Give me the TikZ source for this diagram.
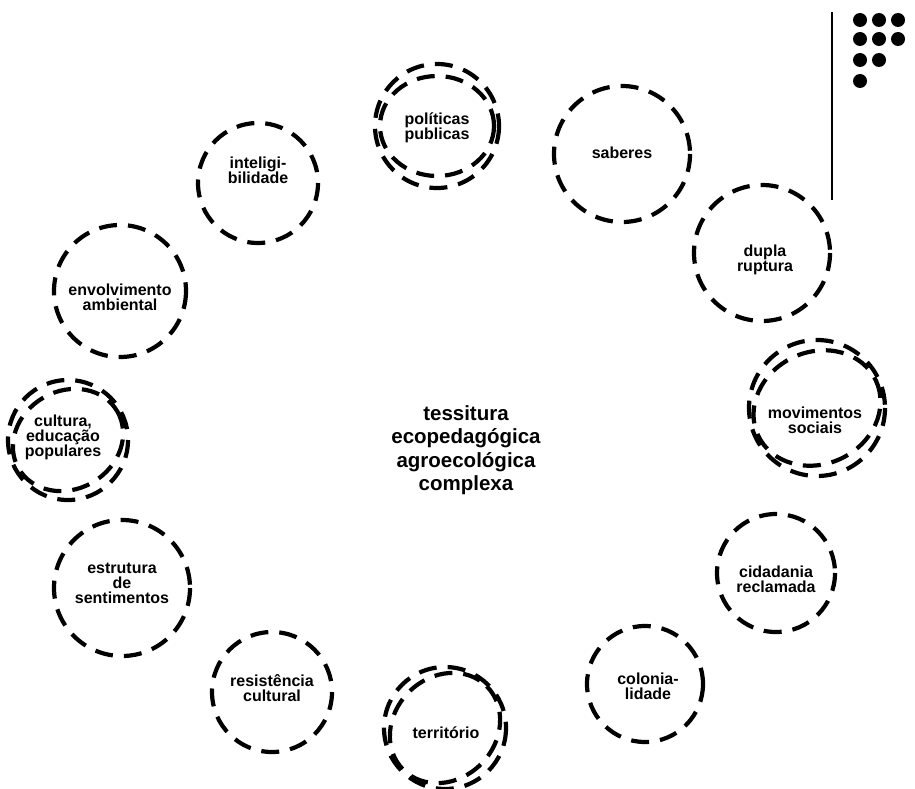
\documentclass[tikz,border=0pt]{standalone}
\usepackage{fontspec}
\setmainfont{Liberation Sans}
\begin{document}
\begin{tikzpicture}[x=1pt,y=-1pt,
  ringline/.style={line width=4.2pt, dash pattern=on 18pt off 11pt},
  lbl/.style={inner sep=0pt, align=center, font=\fontsize{16}{15}\selectfont\bfseries},
  big/.style={inner sep=0pt, align=center, font=\fontsize{20.5}{23.5}\selectfont\bfseries}]
\useasboundingbox[fill=white] (0,0) rectangle (915,789);

% corner decoration
\draw[line width=2.5pt] (832,12) -- (832,200);
\foreach \p in {(860,20),(879,20),(898,20),(860,39),(879,39),(898,39),(860,60),(879,60),(860,81)}
  \fill \p circle (7);

% centre
\node[big] (centre) at (466,450) {tessitura\\ecopedagógica\\agroecológica\\complexa};

% rings
\node[lbl] (pol) at (437,128) {políticas\\publicas};
\draw[ringline] (437,126) circle (62);
\draw[ringline] (437,126) ellipse (57 and 50);

\node[lbl] (sab) at (622,153) {saberes};
\draw[ringline] (622,154) circle (68);

\node[lbl] (dup) at (765,260) {dupla\\ruptura};
\draw[ringline] (762,253) circle (68);

\node[lbl] (mov) at (815,420) {movimentos\\sociais};
\draw[ringline] (817,408) circle (68);
\draw[ringline, rotate around={25:(817,408)}] (817,408) ellipse (65 and 56);

\node[lbl] (cid) at (776,579) {cidadania\\reclamada};
\draw[ringline] (776,573) circle (59);

\node[lbl] (col) at (648,686) {colonia-\\lidade};
\draw[ringline] (645,684) circle (58);

\node[lbl] (ter) at (446,733) {território};
\draw[ringline] (445,728) circle (61);
\draw[ringline, rotate around={45:(445,728)}] (445,728) ellipse (59 and 51);

\node[lbl] (res) at (272,688) {resistência\\cultural};
\draw[ringline] (272,692) circle (60);

\node[lbl] (est) at (122,583) {estrutura\\de\\sentimentos};
\draw[ringline] (122,588) circle (68);

\node[lbl] (cul) at (63,437) {cultura,\\educação\\populares};
\draw[ringline] (68,440) circle (60);
\draw[ringline, rotate around={30:(68,440)}] (68,440) ellipse (57 and 49);

\node[lbl] (env) at (120,297) {envolvimento\\ambiental};
\draw[ringline] (120,291) circle (66);

\node[lbl] (int) at (258,170) {inteligi-\\bilidade};
\draw[ringline] (258,183) circle (60);
\end{tikzpicture}
\end{document}
